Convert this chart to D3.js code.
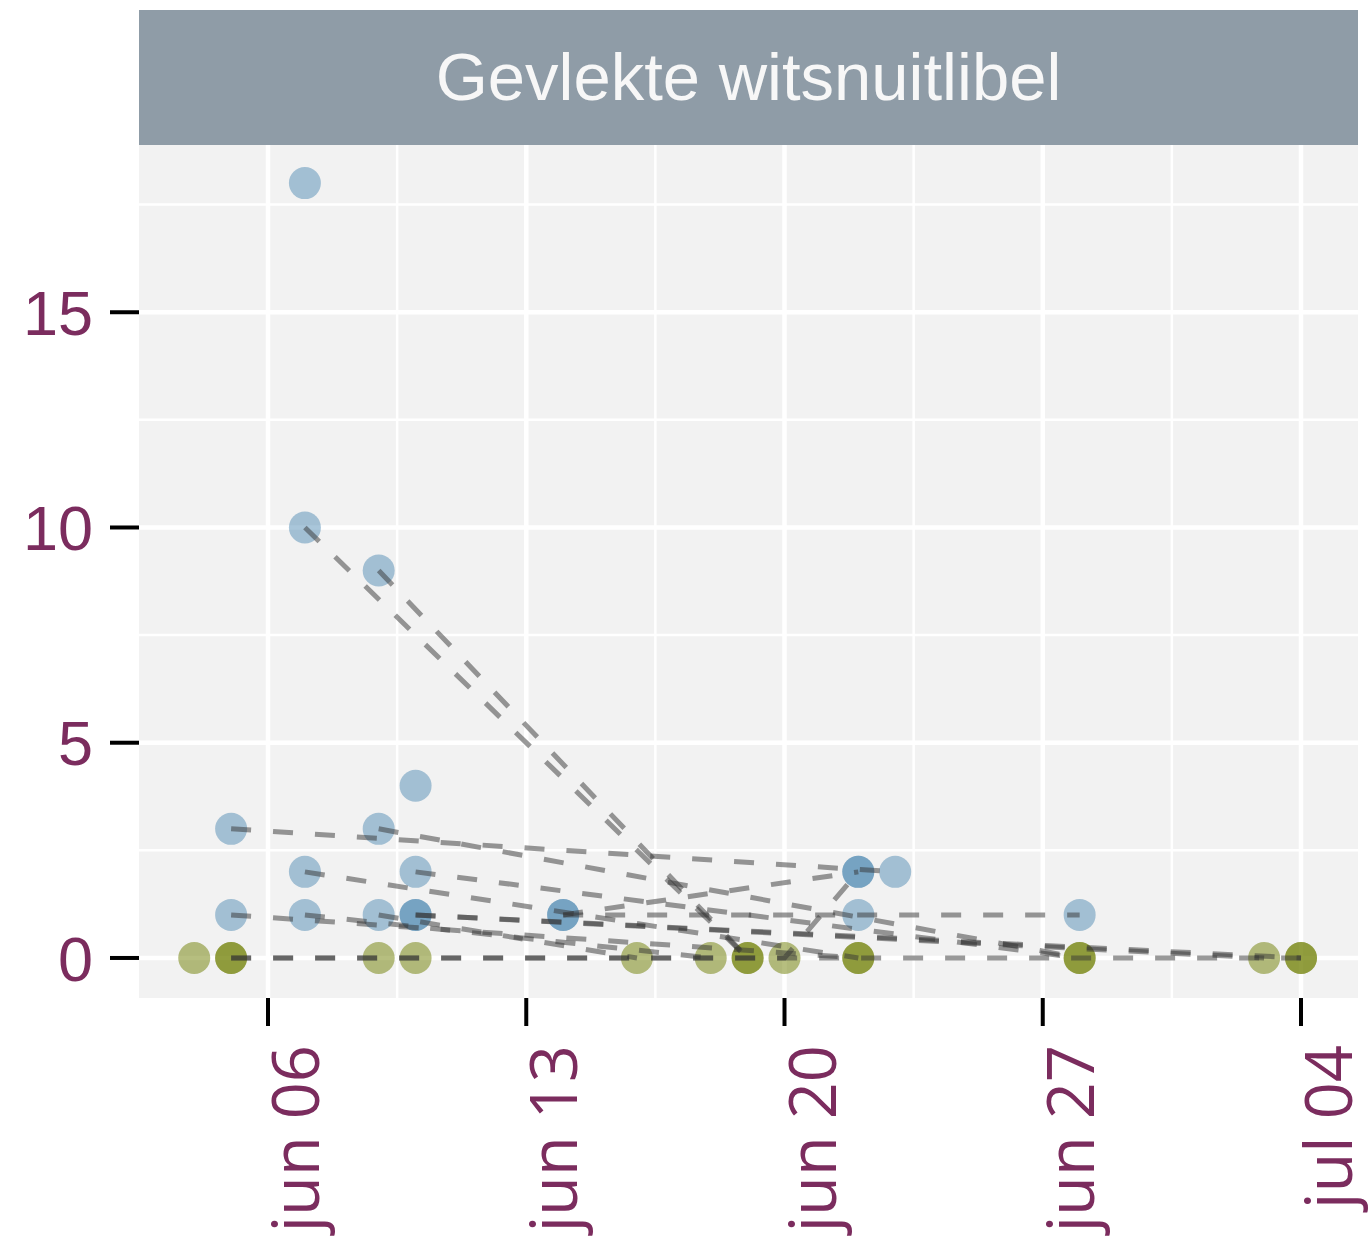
<!DOCTYPE html>
<html>
<head>
<meta charset="utf-8">
<script src="https://cdn.jsdelivr.net/npm/d3@7"></script>
<style>
  body { margin: 0; background: #fff; }
  svg { display: block; }
</style>
</head>
<body>
<svg id="chart" width="1371" height="1242"></svg>
<script>
// Facet title
const facetTitle = "Gevlekte witsnuitlibel";

// One entry per visit: which site, when, how many were counted
const visitSite  = [1, 2, 2, 3, 3, 4, 4, 5, 5, 6, 6, 7, 7, 8, 9, 9, 10, 10, 11, 11,
                    12, 12, 13, 13, 14, 14, 15, 15, 15, 16, 16, 17, 17, 17, 18, 19, 20];
const visitDate  = ["2023-06-07",
                    "2023-06-07", "2023-06-19",
                    "2023-06-09", "2023-06-19",
                    "2023-06-05", "2023-06-23",
                    "2023-06-09", "2023-06-28",
                    "2023-06-07", "2023-06-22",
                    "2023-06-10", "2023-06-28",
                    "2023-06-10",
                    "2023-06-05", "2023-06-22",
                    "2023-06-07", "2023-06-18",
                    "2023-06-09", "2023-06-16",
                    "2023-06-10", "2023-07-03",
                    "2023-06-10", "2023-07-04",
                    "2023-06-14", "2023-06-22",
                    "2023-06-14", "2023-06-22", "2023-06-28",
                    "2023-06-05", "2023-07-04",
                    "2023-06-05", "2023-06-20", "2023-06-22",
                    "2023-06-04",
                    "2023-06-09",
                    "2023-06-10"];
const visitCount = [18,
                    10, 0,
                    9, 0,
                    3, 2,
                    3, 0,
                    2, 0,
                    2, 0,
                    4,
                    1, 0,
                    1, 0,
                    1, 0,
                    1, 0,
                    1, 0,
                    1, 2,
                    1, 1, 1,
                    0, 0,
                    0, 0, 2,
                    0,
                    0,
                    0];

// Axis ticks
const yTicks = [0, 5, 10, 15];
const yMinorTicks = [2.5, 7.5, 12.5, 17.5];
const xTickDates = ["2023-06-06", "2023-06-13", "2023-06-20", "2023-06-27", "2023-07-04"];
const xTickLabels = ["jun 06", "jun 13", "jun 20", "jun 27", "jul 04"];
const xMinorDates = ["2023-06-09T12:00", "2023-06-16T12:00", "2023-06-23T12:00", "2023-06-30T12:00"];

const parse = s => new Date(s.length > 10 ? s + ":00Z" : s + "T00:00:00Z");

const visits = visitSite.map((s, i) => ({
    site: s,
    date: parse(visitDate[i]),
    count: visitCount[i]
}));

// Layout
const panel = { left: 139, right: 1358, top: 145, bottom: 998 };
const strip = { top: 10, bottom: 145 };
const labelColor = "#7b2c5e";

const svg = d3.select("#chart");

// Scales
const x = d3.scaleUtc()
    .domain([new Date(Date.UTC(2023, 5, 6) - 3.497 * 864e5), new Date(Date.UTC(2023, 6, 4) + 1.545 * 864e5)])
    .range([panel.left, panel.right]);
const y = d3.scaleLinear()
    .domain([-0.93, 18.885])
    .range([panel.bottom, panel.top]);

// Panel background
svg.append("rect")
    .attr("x", panel.left).attr("y", panel.top)
    .attr("width", panel.right - panel.left).attr("height", panel.bottom - panel.top)
    .attr("fill", "#f2f2f2");

// Grid lines
const grid = svg.append("g");
grid.selectAll(".ymin").data(yMinorTicks).join("line")
    .attr("x1", panel.left).attr("x2", panel.right)
    .attr("y1", d => y(d)).attr("y2", d => y(d))
    .attr("stroke", "#fff").attr("stroke-width", 2.5);
grid.selectAll(".xmin").data(xMinorDates.map(parse)).join("line")
    .attr("y1", panel.top).attr("y2", panel.bottom)
    .attr("x1", d => x(d)).attr("x2", d => x(d))
    .attr("stroke", "#fff").attr("stroke-width", 2.5);
grid.selectAll(".ymaj").data(yTicks).join("line")
    .attr("x1", panel.left).attr("x2", panel.right)
    .attr("y1", d => y(d)).attr("y2", d => y(d))
    .attr("stroke", "#fff").attr("stroke-width", 4.5);
grid.selectAll(".xmaj").data(xTickDates.map(parse)).join("line")
    .attr("y1", panel.top).attr("y2", panel.bottom)
    .attr("x1", d => x(d)).attr("x2", d => x(d))
    .attr("stroke", "#fff").attr("stroke-width", 4.5);

// Points (drawn under the lines)
svg.append("g")
    .selectAll("circle")
    .data(visits)
    .join("circle")
    .attr("cx", d => x(d.date))
    .attr("cy", d => y(d.count))
    .attr("r", 16)
    .attr("fill", d => d.count > 0 ? "#4180ae" : "#6e7d00")
    .attr("fill-opacity", d => d.count > 0 ? 0.45 : 0.5);

// Dashed lines linking visits to the same site
const line = d3.line()
    .x(d => x(d.date))
    .y(d => y(d.count));

const sites = Array.from(d3.group(visits, d => d.site).values())
    .filter(v => v.length > 1)
    .map(v => v.sort((a, b) => a.date - b.date));

svg.append("g")
    .selectAll("path")
    .data(sites)
    .join("path")
    .attr("d", line)
    .attr("fill", "none")
    .attr("stroke", "#333")
    .attr("stroke-opacity", 0.5)
    .attr("stroke-width", 5)
    .attr("stroke-dasharray", "20,22");

// Strip
svg.append("rect")
    .attr("x", panel.left).attr("y", strip.top)
    .attr("width", panel.right - panel.left).attr("height", strip.bottom - strip.top)
    .attr("fill", "#8f9ca7");
svg.append("text")
    .attr("x", (panel.left + panel.right) / 2)
    .attr("y", 100)
    .attr("text-anchor", "middle")
    .style("font-family", "'Liberation Sans', Arial, sans-serif")
    .style("font-size", "67px")
    .attr("fill", "#f7f7f7")
    .text(facetTitle);

// Y axis
const yAxis = svg.append("g");
yAxis.selectAll("line").data(yTicks).join("line")
    .attr("x1", 110).attr("x2", panel.left)
    .attr("y1", d => y(d)).attr("y2", d => y(d))
    .attr("stroke", "#000").attr("stroke-width", 4);
yAxis.selectAll("text").data(yTicks).join("text")
    .attr("x", 93)
    .attr("y", d => y(d))
    .attr("dy", "0.36em")
    .attr("text-anchor", "end")
    .style("font-family", "'Liberation Sans', Arial, sans-serif")
    .style("font-size", "63px")
    .attr("fill", labelColor)
    .text(d => d);

// X axis
const xAxis = svg.append("g");
xAxis.selectAll("line").data(xTickDates.map(parse)).join("line")
    .attr("x1", d => x(d)).attr("x2", d => x(d))
    .attr("y1", panel.bottom).attr("y2", 1026)
    .attr("stroke", "#000").attr("stroke-width", 4);
xAxis.selectAll("text").data(xTickDates.map(parse)).join("text")
    .attr("transform", d => `translate(${x(d) + 51},1045) rotate(-90)`)
    .attr("text-anchor", "end")
    .style("font-family", "'Open Sans', 'Noto Sans', sans-serif")
    .style("font-size", "65px")
    .attr("fill", labelColor)
    .text((d, i) => xTickLabels[i]);
</script>
</body>
</html>
